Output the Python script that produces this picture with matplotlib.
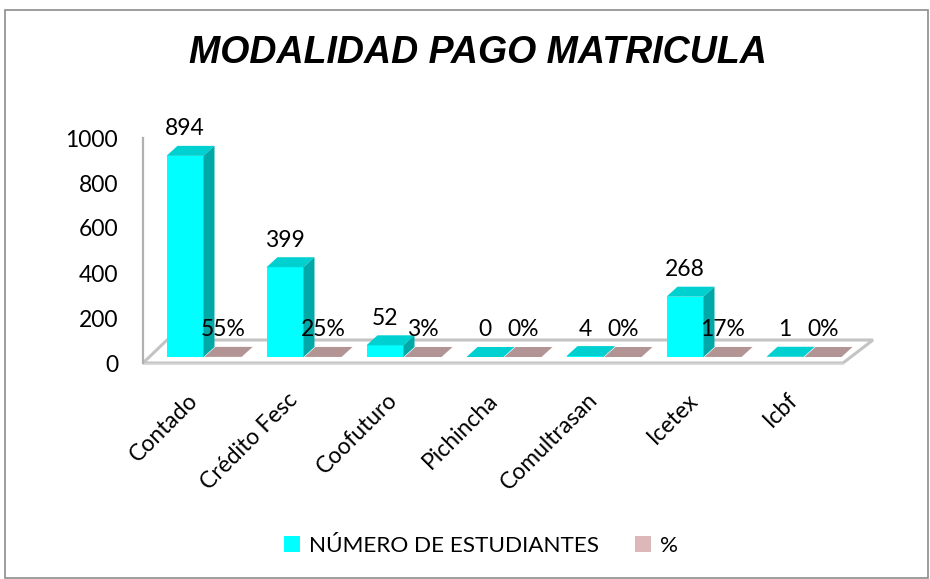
import matplotlib
matplotlib.use("Agg")
import matplotlib.pyplot as plt
from matplotlib.patches import Polygon, Rectangle, Patch

categories = ["Contado", "Crédito Fesc", "Coofuturo", "Pichincha", "Comultrasan", "Icetex", "Icbf"]
students = [894, 399, 52, 0, 4, 268, 1]
percent = [0.55, 0.25, 0.03, 0.00, 0.00, 0.17, 0.00]
yticks = [0, 200, 400, 600, 800, 1000]
series_names = ["NÚMERO DE ESTUDIANTES", "%"]

FONT = ["Lato", "DejaVu Sans"]
TITLE_FONT = ["Liberation Sans", "DejaVu Sans"]
plt.rcParams['font.family'] = FONT

W, H = 930, 579
fig = plt.figure(figsize=(W / 100, H / 100), dpi=100)

px_per_cat = 100.0
x0_px = 204.5
px_per_unit = 0.225
y0_px = 363.0

ax_left_px, ax_right_px = 143, 905
ax_top_px, ax_bot_px = 100, 380
xlim = ((ax_left_px - x0_px) / px_per_cat, (ax_right_px - x0_px) / px_per_cat)
ylim = ((y0_px - ax_bot_px) / px_per_unit, (y0_px - ax_top_px) / px_per_unit)
ax = fig.add_axes([ax_left_px / W, 1 - ax_bot_px / H,
                   (ax_right_px - ax_left_px) / W, (ax_bot_px - ax_top_px) / H])
ax.set_xlim(*xlim)
ax.set_ylim(*ylim)
ax.patch.set_visible(False)

for s in ["top", "right", "bottom"]:
    ax.spines[s].set_visible(False)
ax.spines["left"].set_color("#b0b0b0")
ax.spines["left"].set_linewidth(1.6)
ax.spines["left"].set_bounds(0, 1000)

ax.set_yticks(yticks)
ax.set_yticklabels([str(t) for t in yticks], fontsize=16.5, color="black")
ax.tick_params(axis="y", length=0, pad=18)

dx = 0.11
dv = 10 / px_per_unit
base = 6 / px_per_unit
bw = 0.37
label_off = 17 / px_per_unit

fl_left = xlim[0]
fl_right = (843 - x0_px) / px_per_cat
fl_depth_v = 23 / px_per_unit
floor = Polygon([(fl_left, 0), (fl_right, 0), (fl_right + 0.30, fl_depth_v),
                 (fl_left + 0.24, fl_depth_v)], closed=True,
                facecolor="white", edgecolor="#c4c4c4", linewidth=2.2, zorder=1)
ax.add_patch(floor)
ax.plot([fl_left, fl_right], [-5, -5], color="#d8d8d8", lw=1.2, zorder=1)

cyan_front, cyan_top, cyan_side = "#00FFFF", "#00D0D0", "#00A8A8"
pink_front, pink_top, pink_side = "#C9A6A6", "#B39494", "#9C7D7D"
pink_legend = "#DDB8B8"

xs = list(range(len(categories)))
cyan_x = [i - 0.38 for i in xs]
pink_x = [i + 0.0 for i in xs]
pink_h = [p * 1.0 for p in percent]


def draw_3d(xl, vals, front, top, side, z):
    bars = ax.bar(xl, vals, width=bw, bottom=base, align="edge",
                  color=front, edgecolor="none", zorder=z)
    for b in bars:
        xa = b.get_x()
        xb = xa + b.get_width()
        yt = b.get_y() + b.get_height()
        yb = b.get_y()
        ax.add_patch(Polygon([(xa, yt), (xa + dx, yt + dv), (xb + dx, yt + dv), (xb, yt)],
                             closed=True, facecolor=top, edgecolor="none", zorder=z))
        ax.add_patch(Polygon([(xb, yb), (xb, yt), (xb + dx, yt + dv), (xb + dx, yb + dv)],
                             closed=True, facecolor=side, edgecolor="none", zorder=z))
    return bars


for i in xs:
    draw_3d([cyan_x[i]], [students[i]], cyan_front, cyan_top, cyan_side, 3 + 2 * i)
    draw_3d([pink_x[i]], [pink_h[i]], pink_front, pink_top, pink_side, 4 + 2 * i)

for i in xs:
    ax.text(cyan_x[i] + bw / 2, base + students[i] + dv + label_off, str(students[i]),
            ha="center", va="center", fontsize=16.5, zorder=30)
    ax.text(pink_x[i] + bw / 2, base + pink_h[i] + dv + label_off, f"{percent[i]:.0%}",
            ha="center", va="center", fontsize=16.5, zorder=30)

ax.set_xticks([i - 0.1 for i in xs])
ax.set_xticklabels(categories, rotation=45, ha="right", va="center",
                   rotation_mode="anchor", fontsize=16.5)
ax.tick_params(axis="x", length=0, pad=12)

fig.text(477.5 / W, 1 - 53 / H, "MODALIDAD PAGO MATRICULA", ha="center", va="center",
         fontsize=27, fontweight="bold", fontstyle="italic", family=TITLE_FONT)

handles = [Patch(facecolor=cyan_front, edgecolor="none"),
           Patch(facecolor=pink_legend, edgecolor="none")]
fig.legend(handles, series_names, loc="center", bbox_to_anchor=(481 / W, 1 - 546 / H),
           ncol=2, frameon=False, fontsize=16.2, handlelength=0.7, handleheight=0.7,
           handletextpad=0.4, columnspacing=1.6)

fig.patches.append(Rectangle((5 / W, 1 - 578 / H), 923 / W, 568 / H,
                             transform=fig.transFigure, fill=False,
                             edgecolor="#8c8c8c", linewidth=1.2))

fig.savefig("out.png", dpi=100)
